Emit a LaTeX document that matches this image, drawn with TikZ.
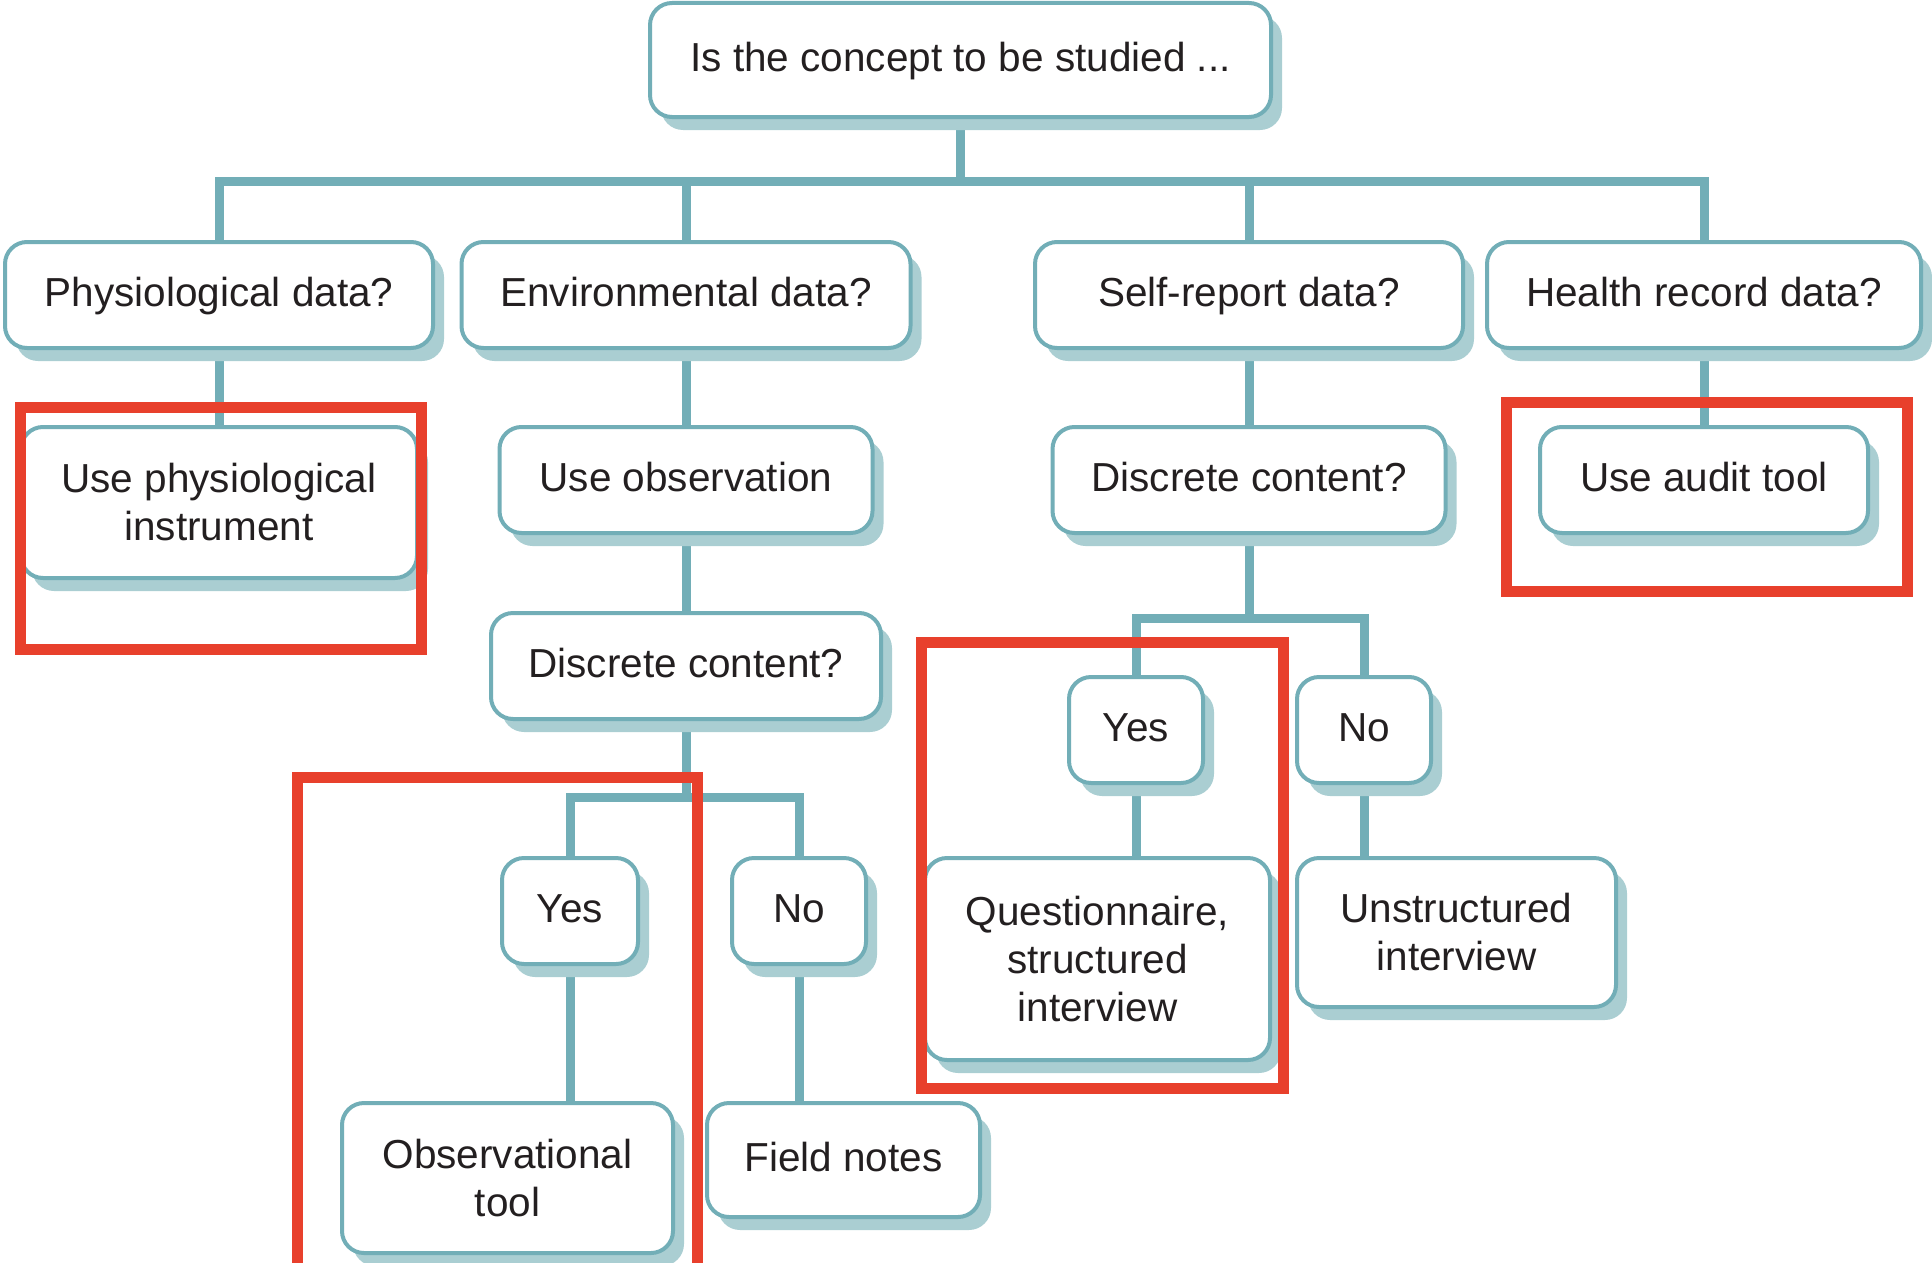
\documentclass[tikz,border=0pt]{standalone}
\usepackage{fontspec}
\setmainfont{Liberation Sans}
\usetikzlibrary{shadows,backgrounds}
\definecolor{tealc}{RGB}{114,174,183}
\definecolor{shadowc}{RGB}{170,206,210}
\definecolor{textc}{RGB}{35,31,32}
\definecolor{redc}{RGB}{232,64,44}
\begin{document}
\begin{tikzpicture}[x=1pt,y=-1pt,
  box/.style={draw=tealc, line width=4pt, fill=white, rounded corners=22pt,
    inner sep=0pt, outer sep=0pt, align=center, text=textc,
    font={\fontsize{40.5}{48}\selectfont},
    drop shadow={shadow xshift=11pt, shadow yshift=-13pt, fill=shadowc, opacity=1}},
  onebox/.style={box, text height=31pt, text depth=8pt},
  conn/.style={draw=tealc, line width=9pt, line join=miter},
  hilite/.style={draw=redc, line width=11pt, line join=miter}]
\useasboundingbox (0,0) rectangle (1932,1263);
% nodes
\node[onebox, minimum width=621pt, minimum height=114pt] (top) at (960.5,60) {Is the concept to be studied ...};
\node[onebox, minimum width=428pt, minimum height=106pt] (phys) at (219,295) {Physiological data?};
\node[onebox, minimum width=449pt, minimum height=106pt] (env) at (686,295) {Environmental data?};
\node[onebox, minimum width=428pt, minimum height=106pt] (self) at (1249,295) {Self-report data?};
\node[onebox, minimum width=434pt, minimum height=106pt] (health) at (1704,295) {Health record data?};
\node[box, minimum width=396pt, minimum height=151pt] (usephys) at (219,502.5) {Use physiological\\instrument};
\node[onebox, minimum width=373pt, minimum height=106pt] (useobs) at (686,480) {Use observation};
\node[onebox, minimum width=393pt, minimum height=106pt] (disc2) at (1249,480) {Discrete content?};
\node[onebox, minimum width=328pt, minimum height=106pt] (audit) at (1704,480) {Use audit tool};
\node[onebox, minimum width=390pt, minimum height=106pt] (disc1) at (686,666) {Discrete content?};
\node[onebox, minimum width=134pt, minimum height=106pt] (yesR) at (1136,730) {Yes};
\node[onebox, minimum width=134pt, minimum height=106pt] (noR) at (1364,730) {No};
\node[box, minimum width=345pt, minimum height=202pt] (quest) at (1097.5,959) {Questionnaire,\\structured\\interview};
\node[box, minimum width=319pt, minimum height=149pt] (unstr) at (1456.5,932.5) {Unstructured\\interview};
\node[onebox, minimum width=136pt, minimum height=106pt] (yesL) at (570,911) {Yes};
\node[onebox, minimum width=134pt, minimum height=106pt] (noL) at (799,911) {No};
\node[box, minimum width=331pt, minimum height=150pt] (obs) at (507.5,1178) {Observational\\tool};
\node[onebox, minimum width=273pt, minimum height=114pt] (field) at (843.5,1160) {Field notes};
% connectors
\coordinate (b1) at (960.5,181);
\coordinate (b2) at (1249,618);
\coordinate (b3) at (686,797);
\begin{pgfonlayer}{background}
\draw[conn] (top.south) -- (b1);
\draw[conn] (phys.north) |- (b1) -| (health.north);
\draw[conn] (env.north) -- (env.north |- b1);
\draw[conn] (self.north) -- (self.north |- b1);
\draw[conn] (phys.south) -- (usephys.north);
\draw[conn] (env.south) -- (useobs.north);
\draw[conn] (useobs.south) -- (disc1.north);
\draw[conn] (self.south) -- (disc2.north);
\draw[conn] (health.south) -- (audit.north);
\draw[conn] (disc2.south) -- (b2);
\draw[conn] (yesR.north) |- (b2) -| (noR.north);
\draw[conn] (yesR.south) -- (yesR.south |- quest.north);
\draw[conn] (noR.south) -- (noR.south |- unstr.north);
\draw[conn] (disc1.south) -- (b3);
\draw[conn] (yesL.north) |- (b3) -| (noL.north);
\draw[conn] (yesL.south) -- (yesL.south |- obs.north);
\draw[conn] (noL.south) -- (noL.south |- field.north);
\end{pgfonlayer}
% highlight frames
\draw[hilite] (20,407) rectangle (421,649);
\draw[hilite] (1506,402) rectangle (1907,591);
\draw[hilite] (921,642) rectangle (1283,1088);
\draw[hilite] (297,1290) -- (297,777) -- (697,777) -- (697,1290);
\end{tikzpicture}
\end{document}
